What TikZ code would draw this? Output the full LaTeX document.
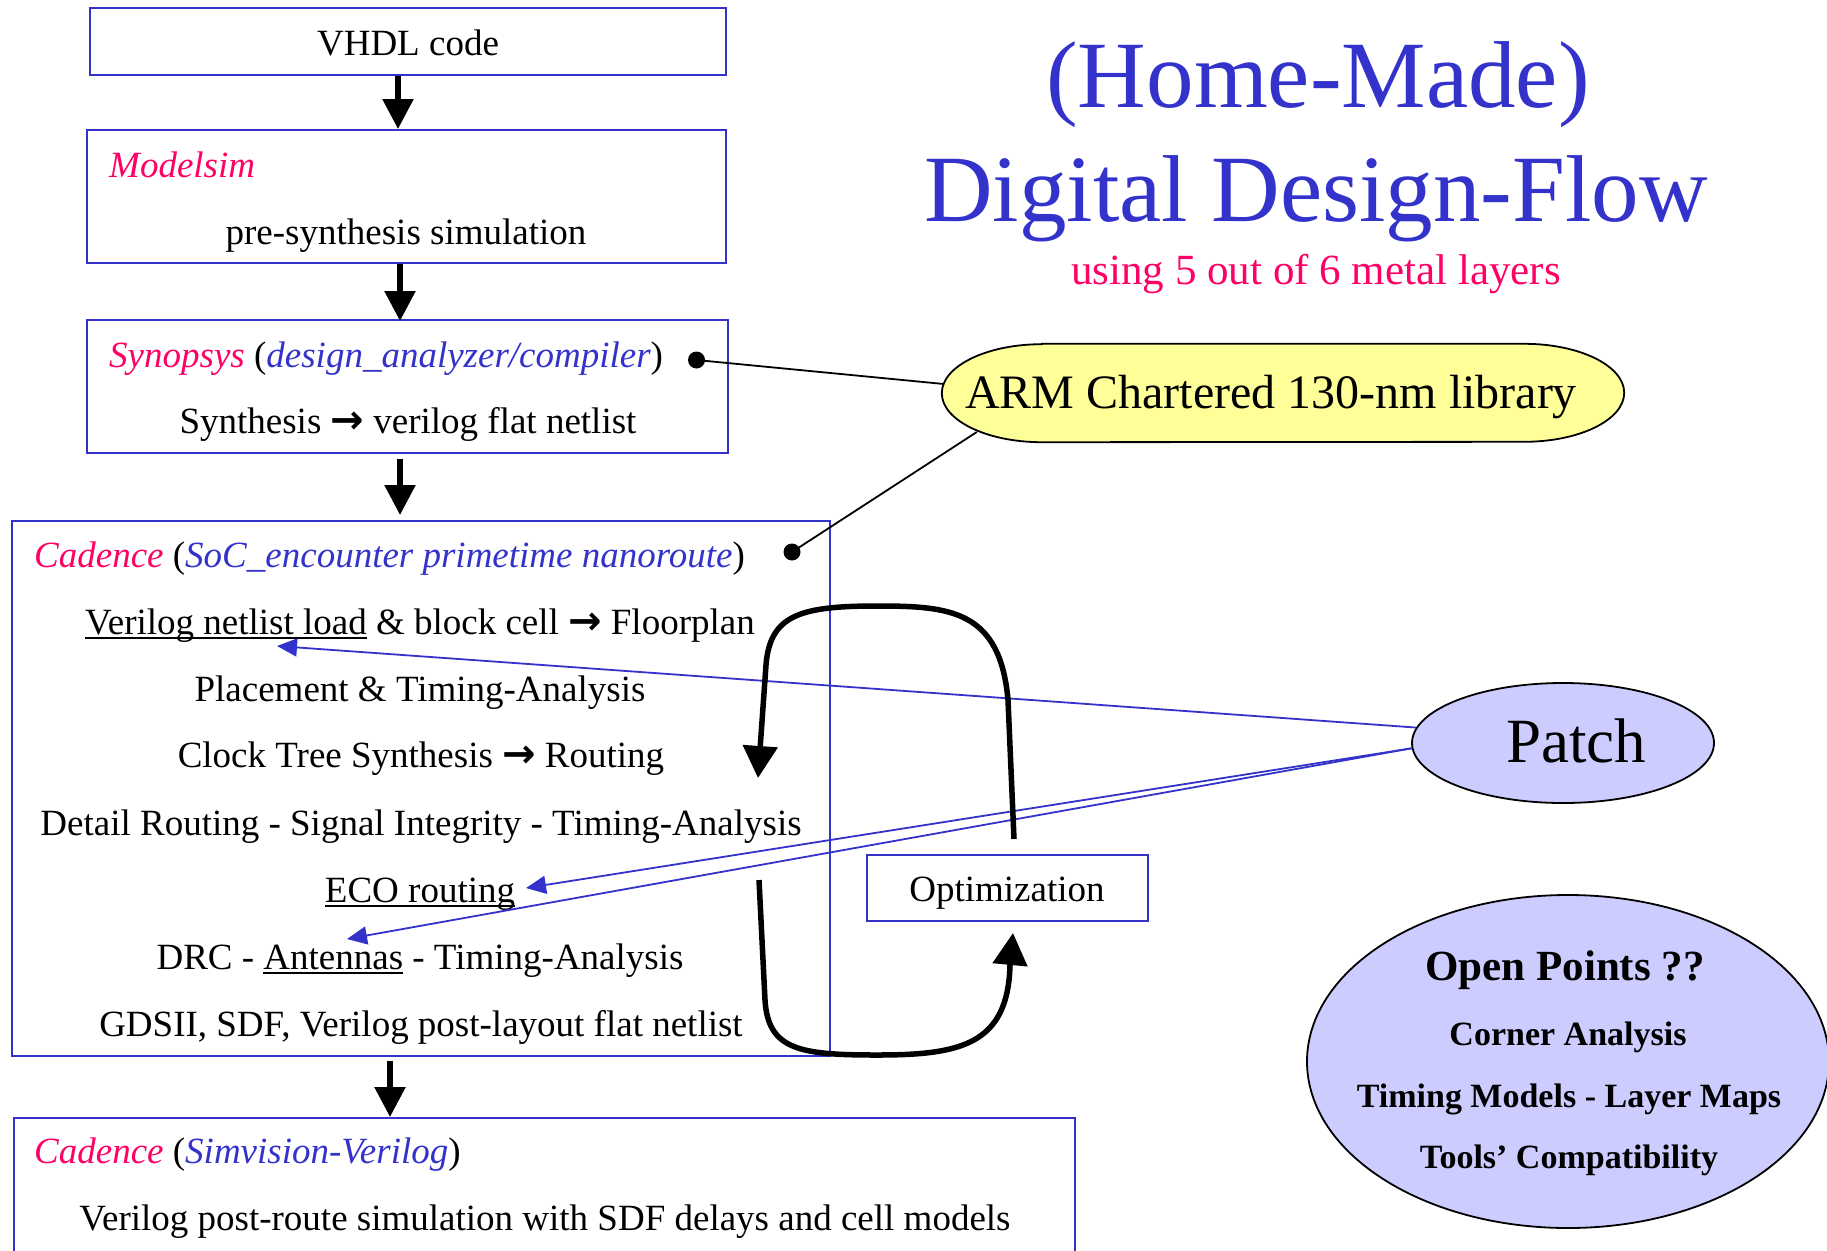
\documentclass[tikz,border=0pt]{standalone}
\usepackage{fontspec}
\setmainfont{Liberation Serif}
\newfontfamily\arrowfont{DejaVu Sans}
\usetikzlibrary{arrows.meta,calc,shapes.geometric}
\definecolor{fblue}{HTML}{3333CC}
\definecolor{fpink}{HTML}{FF0066}
\definecolor{armyellow}{HTML}{FFFF99}
\definecolor{patchblue}{HTML}{CCCCFF}
\newcommand{\flowarr}{{\arrowfont\bfseries\fontsize{40}{44}\selectfont →}}
\newcommand{\myul}[1]{\setbox0\hbox{#1}\rlap{\rule[-5pt]{\wd0}{2pt}}\box0\relax}
\newcommand{\tool}[1]{{\color{fpink}\itshape #1}}
\newcommand{\prog}[1]{{\color{fblue}\itshape #1}}
\begin{document}
\begin{tikzpicture}[x=1pt,y=-1pt,
  box/.style={draw=fblue,line width=2pt,inner sep=0pt},
  txt/.style={font=\fontsize{37}{44}\selectfont,inner sep=0pt},
  flow/.style={line width=5.5pt,-{Triangle[width=30pt,length=30pt]}},
  loopar/.style={line width=5.5pt,-{Triangle[width=34pt,length=32pt]}},
  patcharr/.style={draw=fblue,line width=1.8pt,-{Triangle[width=18pt,length=20pt]}},
  dot/.style={circle,fill=black,inner sep=0pt,minimum size=17pt},
  bubble/.style={ellipse,draw=black,line width=1.8pt,fill=patchblue,inner sep=0pt},
  optxt/.style={font=\fontsize{34}{40}\selectfont\bfseries,inner sep=0pt,anchor=base},
]
\fill[white] (0,0) rectangle (1827,1250);
\useasboundingbox (0,0) rectangle (1827,1250);
\clip (0,0) rectangle (1827,1250);

% title
\node[font=\fontsize{95}{100}\selectfont,text=fblue,inner sep=0pt,anchor=base] (t1) at (1318,107) {(Home-Made)};
\node[font=\fontsize{95}{100}\selectfont,text=fblue,inner sep=0pt,anchor=base] (t2) at (1316,221) {Digital Design-Flow};
\node[font=\fontsize{43}{50}\selectfont,text=fpink,inner sep=0pt,anchor=base] (t3) at (1316,284) {using 5 out of 6 metal layers};

% boxes
\node[box,minimum width=636pt,minimum height=67pt] (vhdl) at (408,41.5) {};
\node[txt,anchor=base] (vhdlT) at (408,55) {VHDL code};

\node[box,minimum width=639pt,minimum height=133pt] (modelsim) at (406.5,196.5) {};
\node[txt,anchor=base west] (msH) at (109,177) {\tool{Modelsim}};
\node[txt,anchor=base] (msT) at (406,244) {pre-synthesis simulation};

\node[box,minimum width=641pt,minimum height=133pt] (synopsys) at (407.5,386.5) {};
\node[txt,anchor=base west] (syH) at (109,367) {\tool{Synopsys} (\prog{design\_analyzer/compiler})};
\node[txt,anchor=base] (syT) at (408,433) {Synthesis \flowarr{} verilog flat netlist};

\node[box,minimum width=818pt,minimum height=535pt] (cadence) at (421,788.5) {};
\node[txt,anchor=base west] (caH) at (34,567) {\tool{Cadence} (\prog{SoC\_encounter primetime nanoroute})};
\node[txt,anchor=base] (ca1) at (420,634) {\myul{Verilog netlist load} \& block cell \flowarr{} Floorplan};
\node[txt,anchor=base] (ca2) at (420,701) {Placement \& Timing-Analysis};
\node[txt,anchor=base] (ca3) at (421,767) {Clock Tree Synthesis \flowarr{} Routing};
\node[txt,anchor=base] (ca4) at (421,835) {Detail Routing - Signal Integrity - Timing-Analysis};
\node[txt,anchor=base] (ca5) at (420,902) {\myul{ECO routing}};
\node[txt,anchor=base] (ca6) at (420,969) {DRC - \myul{Antennas} - Timing-Analysis};
\node[txt,anchor=base] (ca7) at (421,1036) {GDSII, SDF, Verilog post-layout flat netlist};

\node[box,minimum width=1061pt,minimum height=144pt] (simv) at (544.5,1190) {};
\node[txt,anchor=base west] (svH) at (34,1163) {\tool{Cadence} (\prog{Simvision-Verilog})};
\node[txt,anchor=base] (svT) at (545,1230) {Verilog post-route simulation with SDF delays and cell models};

\node[box,minimum width=281pt,minimum height=66pt] (opt) at (1007.5,888) {};
\node[txt,anchor=base] (optT) at (1007,901) {Optimization};

% flow arrows
\draw[flow] ([xshift=-10pt]vhdl.south) -- ([xshift=-10pt]vhdl.south |- modelsim.north);
\draw[flow] ([xshift=-6.5pt]modelsim.south) -- ([xshift=-6.5pt,yshift=-2pt]modelsim.south |- synopsys.north);
\draw[flow,shorten <=5pt,shorten >=5pt] ([xshift=-7.5pt]synopsys.south) -- ([xshift=-7.5pt]synopsys.south |- cadence.north);
\draw[flow,shorten <=4pt] ([xshift=-31pt]cadence.south) -- ([xshift=-31pt]cadence.south |- simv.north);

% ARM library
\node[inner sep=0pt,minimum width=682pt,minimum height=98pt] (arm) at (1283,393) {};
\filldraw[fill=armyellow,draw=black,line width=1.8pt]
  ([xshift=100pt]arm.north west) -- ([xshift=-100pt]arm.north east)
  arc[start angle=90,end angle=-90,x radius=100pt,y radius=49pt]
  -- ([xshift=100pt]arm.south west)
  arc[start angle=270,end angle=90,x radius=100pt,y radius=49pt] -- cycle;
\node[font=\fontsize{48}{56}\selectfont,inner sep=0pt,anchor=base] (armT) at (1271,408) {ARM Chartered 130-nm library};

\node[dot] (sdot) at (696.5,360) {};
\node[dot] (cdot) at (792,552) {};
\draw[line width=1.8pt] (sdot.center) -- ($(arm.west)+(2,-9)$);
\draw[line width=1.8pt] (cdot.center) -- ($(arm.west)+(35,39)$);

% Patch
\node[bubble,minimum width=302pt,minimum height=120pt] (patch) at (1563,743) {};
\node[font=\fontsize{63}{70}\selectfont,inner sep=0pt,anchor=base] (patchT) at (1576,762) {Patch};

\coordinate (tipV) at (277,646);
\coordinate (tipE) at (526,888);
\coordinate (tipA) at (347,939);
\draw[patcharr] (patch.174) -- (tipV);
\draw[patcharr] (patch.182) -- (tipE);
\draw[patcharr] (patch.182) -- (tipA);

% loops
\coordinate (loopTip) at (758,778);
\coordinate (loopStart) at (759,880);
\draw[loopar] ($(opt.north)+(6.5,-15)$) -- (1008,700)
  .. controls (1000,610) and (950,606) .. (877,606)
  .. controls (800,606) and (770,615) .. (766,665) -- (loopTip);
\draw[loopar] (loopStart) -- (765,1000)
  .. controls (768,1050) and (800,1055) .. (877,1055)
  .. controls (960,1055) and (1008,1045) .. (1010,965) -- ($(opt.south)+(5.5,11)$);

% Open points
\node[bubble,minimum width=522pt,minimum height=333pt] (open) at (1568,1061.5) {};
\node[font=\fontsize{43}{50}\selectfont\bfseries,inner sep=0pt,anchor=base] (op1) at (1565,980) {Open Points ??};
\node[optxt] (op2) at (1568,1045) {Corner Analysis};
\node[optxt] (op3) at (1569,1107) {Timing Models - Layer Maps};
\node[optxt] (op4) at (1569,1168) {Tools’ Compatibility};
\end{tikzpicture}
\end{document}
